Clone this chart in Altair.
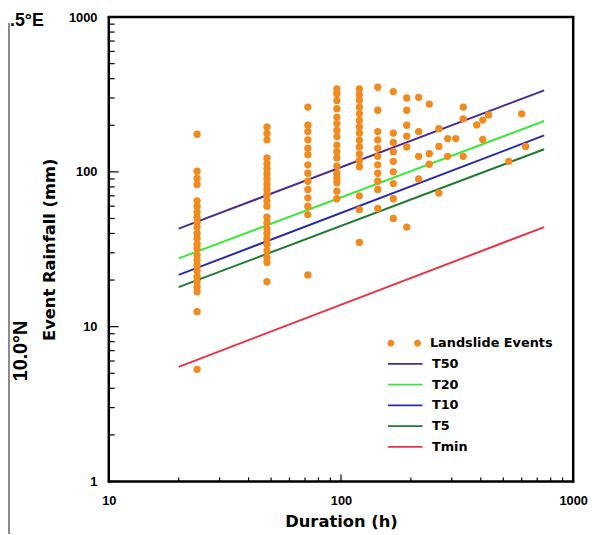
import altair as alt
import pandas as pd

# ---------------- data ----------------
# Landslide events: rainfall (mm) grouped by duration (h)
ev_24 = [175, 101, 91, 83, 65, 60, 55, 51, 47, 44, 40, 37, 34, 32, 29, 27, 25, 23,
         21, 19.5, 18, 16.8, 12.5, 5.3]
ev_48 = [195, 177, 161, 123, 113, 105, 97, 90, 83, 77, 71, 65, 60, 51, 47, 43, 40,
         37, 34, 31, 28, 26, 19.5]
ev_72 = [262, 200, 182, 161, 142, 129, 111, 98, 87, 77, 68, 60, 53, 21.6]
ev_96 = [343, 319, 289, 256, 226, 205, 186, 169, 149, 135, 123, 109, 98, 91, 85, 75, 67]
ev_120 = [343, 315, 290, 262, 238, 215, 195, 178, 160, 145, 130, 118, 108, 70, 57, 35]
ev_144 = [352, 250, 182, 161, 142, 126, 111, 98, 87, 77, 58]
ev_168 = [330, 178, 155, 135, 117, 100, 84, 67, 50]
ev_192 = [300, 250, 200, 170, 145, 44]
late_dur = [216, 216, 216, 216, 240, 240, 240, 264, 264, 264, 288, 288, 312,
            336, 336, 336, 384, 408, 408, 432, 528, 600, 624]
late_rain = [303, 182, 126, 90, 274, 131, 112, 190, 146, 73, 164, 126, 164,
             262, 220, 126, 201, 216, 162, 233, 117, 237, 146]

# Threshold lines (end points)
thr_names = ["T50", "T20", "T10", "T5", "Tmin"]
thr_dur = [20, 750]
thr_start = [43, 27.6, 21.6, 18.0, 5.5]
thr_end = [336, 213, 172, 140, 44]
thr_colors = ["#4b2b8e", "#3fe83f", "#2a2aa8", "#1f7a36", "#e8344a"]

x_major = [10, 100, 1000]
x_minor = [20, 30, 40, 50, 60, 70, 80, 90, 200, 300, 400, 500, 600, 700, 800, 900]
y_major = [1, 10, 100, 1000]
y_minor = [2, 3, 4, 5, 6, 7, 8, 9, 20, 30, 40, 50, 60, 70, 80, 90,
           200, 300, 400, 500, 600, 700, 800, 900]

ORANGE = "#ef8b1f"
EVENT_LABEL = "Landslide Events"

# ---------------- tables ----------------
rows = []
for d, vals in [(24, ev_24), (48, ev_48), (72, ev_72), (96, ev_96), (120, ev_120),
                (144, ev_144), (168, ev_168), (192, ev_192)]:
    for v in vals:
        rows.append({"duration": d, "rain": v, "series": EVENT_LABEL})
for d, v in zip(late_dur, late_rain):
    rows.append({"duration": d, "rain": v, "series": EVENT_LABEL})
events = pd.DataFrame(rows)

lrows = []
for n, s, e in zip(thr_names, thr_start, thr_end):
    lrows.append({"duration": thr_dur[0], "rain": s, "series": n})
    lrows.append({"duration": thr_dur[1], "rain": e, "series": n})
lines = pd.DataFrame(lrows)

LABEL_FONT = "Liberation Sans"
TITLE_FONT = "DejaVu Sans"

x_scale = alt.Scale(type="log", domain=[10, 1000], nice=False)
y_scale = alt.Scale(type="log", domain=[1, 1000], nice=False)

x_axis = alt.Axis(values=x_major, format="d", ticks=False, domain=False, grid=False,
                  labelFlush=False, labelFont=LABEL_FONT, labelFontWeight="bold",
                  labelFontSize=13, labelColor="black", labelPadding=13,
                  title="Duration (h)", titleFont=TITLE_FONT, titleFontSize=16.5,
                  titleFontWeight="bold", titleColor="black", titlePadding=7)
y_axis = alt.Axis(values=y_major, format="d", ticks=False, domain=False, grid=False,
                  labelFont=LABEL_FONT, labelFontWeight="bold",
                  labelFontSize=13, labelColor="black", labelPadding=12,
                  title="Event Rainfall (mm)", titleFont=TITLE_FONT, titleFontSize=16.5,
                  titleFontWeight="bold", titleColor="black", titlePadding=11)

X = alt.X("duration:Q", scale=x_scale, axis=x_axis)
Y = alt.Y("rain:Q", scale=y_scale, axis=y_axis)

TWO_DOTS = ("M-1.7,0A0.35,0.35,0,1,1,-1.0,0A0.35,0.35,0,1,1,-1.7,0Z"
            "M1.0,0A0.35,0.35,0,1,1,1.7,0A0.35,0.35,0,1,1,1.0,0Z")
DASH = "M-1.75,0L1.75,0"

common_legend = dict(orient="none", title=None, symbolSize=400, padding=0,
                     labelFont=TITLE_FONT, labelFontSize=13, labelFontWeight="bold",
                     labelColor="black", labelOffset=16, rowPadding=3)

lines_layer = alt.Chart(lines).mark_line(strokeWidth=2).encode(
    x=X, y=Y,
    stroke=alt.Stroke("series:N",
                      scale=alt.Scale(domain=thr_names, range=thr_colors),
                      legend=alt.Legend(symbolType=DASH, symbolStrokeWidth=2,
                                        legendX=289, legendY=340, **common_legend)),
)

points_layer = alt.Chart(events).mark_circle(size=55, opacity=1).encode(
    x=X, y=Y,
    fill=alt.Fill("series:N",
                  scale=alt.Scale(domain=[EVENT_LABEL], range=[ORANGE]),
                  legend=alt.Legend(symbolType=TWO_DOTS, symbolStrokeWidth=0,
                                    legendX=289, legendY=320, **common_legend)),
)

xt_major = alt.Chart(pd.DataFrame({"duration": x_major})).mark_rule(
    color="black", strokeWidth=1.2).encode(x=X, y=alt.value(470), y2=alt.value(463))
xt_minor = alt.Chart(pd.DataFrame({"duration": x_minor})).mark_rule(
    color="black", strokeWidth=1.2).encode(x=X, y=alt.value(470), y2=alt.value(466))
yt_major = alt.Chart(pd.DataFrame({"rain": y_major})).mark_rule(
    color="black", strokeWidth=1.2).encode(y=Y, x=alt.value(0), x2=alt.value(10))
yt_minor = alt.Chart(pd.DataFrame({"rain": y_minor})).mark_rule(
    color="black", strokeWidth=1.2).encode(y=Y, x=alt.value(0), x2=alt.value(6))

# plot frame: four edges
frame_top = alt.Chart(pd.DataFrame({"a": [0]})).mark_rule(
    color="black", strokeWidth=2.5).encode(
    x=alt.value(-1), x2=alt.value(471), y=alt.value(0))
frame_right = alt.Chart(pd.DataFrame({"a": [0]})).mark_rule(
    color="black", strokeWidth=2.5).encode(
    x=alt.value(470), y=alt.value(-1), y2=alt.value(471))
frame_left = alt.Chart(pd.DataFrame({"a": [0]})).mark_rule(
    color="black", strokeWidth=2.5).encode(
    x=alt.value(0), y=alt.value(-1), y2=alt.value(471))
frame_bottom = alt.Chart(pd.DataFrame({"a": [0]})).mark_rule(
    color="black", strokeWidth=2.5).encode(
    x=alt.value(-1), x2=alt.value(471), y=alt.value(470))

side_line = alt.Chart(pd.DataFrame({"a": [0]})).mark_rule(
    color="#8a8a8a", strokeWidth=2).encode(
    x=alt.value(-101), y=alt.value(6), y2=alt.value(540))
east_text = alt.Chart(pd.DataFrame({"a": [0]})).mark_text(
    text=".5°E", font=LABEL_FONT, fontSize=18, fontWeight="bold", color="black",
    align="left", baseline="alphabetic").encode(x=alt.value(-100), y=alt.value(9))
north_text = alt.Chart(pd.DataFrame({"a": [0]})).mark_text(
    text="10.0°N", font=LABEL_FONT, fontSize=20, fontWeight="bold", color="black",
    align="center", baseline="middle", angle=270).encode(x=alt.value(-89), y=alt.value(338))

chart = alt.layer(
    lines_layer, points_layer, xt_major, xt_minor, yt_major, yt_minor,
    frame_top, frame_right, frame_left, frame_bottom,
    side_line, east_text, north_text
).properties(
    width=470, height=470,
    autosize=alt.AutoSizeParams(type="none"),
    padding={"left": 102, "top": 6, "right": 16, "bottom": 50},
).configure_view(
    stroke="black", strokeWidth=2
).configure(background="white")

chart.save("out.html", embed_options={"renderer": "svg", "actions": False})
